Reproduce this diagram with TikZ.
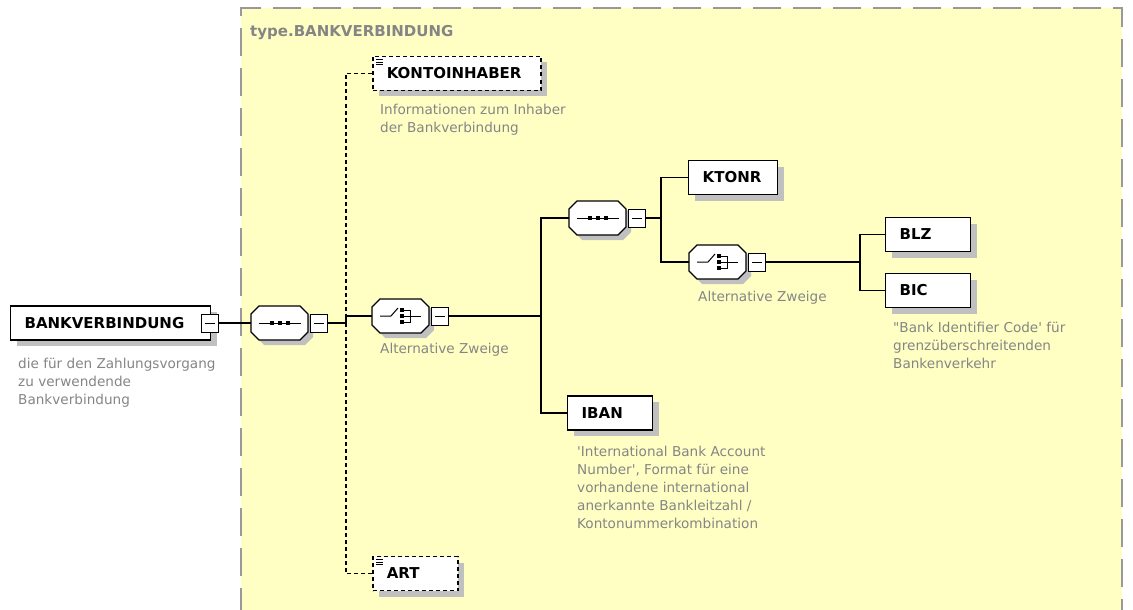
\documentclass[tikz,border=0pt]{standalone}
\usepackage{fontspec}
\setmainfont{DejaVu Sans}
\usetikzlibrary{positioning, shadows}
\definecolor{typefill}{HTML}{FFFFC4}
\definecolor{typeline}{HTML}{999999}
\definecolor{doctext}{HTML}{858585}
\definecolor{shadowgray}{HTML}{C0C0C0}

\begin{document}
\begin{tikzpicture}[
  x=1pt, y=-1pt,
  elem/.style={rectangle, draw=black, fill=white, line width=1.3pt,
               minimum height=34pt, inner xsep=14pt, inner ysep=0pt,
               text width=#1, align=left, anchor=west,
               font=\fontsize{15}{18}\selectfont\bfseries,
               drop shadow={shadow xshift=6pt, shadow yshift=-6pt,
                            fill=shadowgray, opacity=1}},
  elem/.default=57pt,
  optelem/.style={elem=#1, line width=1.5pt, dash pattern=on 4pt off 3pt},
  optelem/.default=57pt,
  compbox/.style={rectangle, minimum width=57pt, minimum height=34pt,
               inner sep=0pt, anchor=west},
  collapse/.style={rectangle, draw=black, fill=white, line width=1pt,
               minimum width=17pt, minimum height=18pt, inner sep=0pt,
               anchor=west,
               path picture={\draw[line width=1pt]
                 ([xshift=-5pt]path picture bounding box.center) --
                 ([xshift=5pt]path picture bounding box.center);}},
  doc/.style={inner sep=0pt, align=left, text=doctext,
              font=\fontsize{13.6}{18}\selectfont},
  title/.style={inner sep=0pt, anchor=base west, text=doctext,
              font=\fontsize{15}{18}\selectfont\bfseries},
  conn/.style={line width=1.2pt},
  optconn/.style={line width=1.2pt, dash pattern=on 4pt off 3pt},
  octagon/.pic={
    \fill[shadowgray] (13,-12) -- (54,-12) -- (62,-4) -- (62,14)
      -- (54,22) -- (13,22) -- (5,14) -- (5,-4) -- cycle;
    \draw[line width=1.3pt, fill=white] (8,-17) -- (49,-17) -- (57,-9)
      -- (57,9) -- (49,17) -- (8,17) -- (0,9) -- (0,-9) -- cycle;
    \node[compbox] (-box) at (0,0) {};
    \node[collapse] (-m) at (59,0) {};
  },
  sequence/.pic={
    \pic {octagon};
    \draw[line width=1pt] (7.5,0) -- (49.5,0);
    \foreach \dx in {-8,0,8} \fill (28.5+\dx-2,-2) rectangle (28.5+\dx+2,2);
  },
  choice/.pic={
    \pic {octagon};
    \begin{scope}[shift={(29,0)}]
      \draw[line width=1pt] (-21,0) -- (-10,0) -- (-3,-8);
      \foreach \dy in {-6,0,6} \fill (-1,\dy-1.8) rectangle (3,\dy+1.8);
      \draw[line width=1pt] (3,-6) -- (9,-6) -- (9,6) -- (3,6) (3,0) -- (20,0);
    \end{scope}
  },
  optmark/.pic={
    \foreach \dy in {0,2.5,5} \draw[line width=0.8pt] (0,\dy) -- (7,\dy);
  },
]
\useasboundingbox (0,0) rectangle (1133,610);

% complex type frame
\fill[typefill] (241,8) rectangle (1122,616);
\draw[typeline, line width=1.3pt, dash pattern=on 28pt off 12pt]
  (241,616) -- (241,8) -- (1122,8) -- (1122,616);
\node[title] (ttl) at (250,37) {type.BANKVERBINDUNG};

% elements and compositors
\node[elem=172pt] (root) at (10,323) {BANKVERBINDUNG};
\node[collapse] (rootm) at ([xshift=-10pt]root.east) {};

\pic (s1) at (251,323) {sequence};

\node[optelem=140pt] (kont) at (372,73.5) {KONTOINHABER};
\node[optelem] (art) at (372,573.5) {ART};

\pic (c1) at (372,316) {choice};
\pic (s2) at (569,218) {sequence};

\node[elem=61pt] (ktonr) at (688,177.5) {KTONR};

\pic (c2) at (689,262) {choice};

\node[elem] (blz) at (885,234.5) {BLZ};
\node[elem] (bic) at (885,290.5) {BIC};
\node[elem] (iban) at (567,413) {IBAN};

\pic at ([shift={(4,4)}]kont.north west) {optmark};
\pic at ([shift={(4,4)}]art.north west) {optmark};

% annotations
\node[doc, below right=17pt and 8pt of root.south west] (rootdoc)
  {die für den Zahlungsvorgang\\zu verwendende\\Bankverbindung};
\node[doc, below right=13pt and 8pt of kont.south west] (kontdoc)
  {Informationen zum Inhaber\\der Bankverbindung};
\node[doc, below right=10pt and 8pt of c1-box.south west] (c1doc) {Alternative Zweige};
\node[doc, below right=12pt and 9pt of c2-box.south west] (c2doc) {Alternative Zweige};
\node[doc, below right=13.5pt and 8pt of bic.south west] (bicdoc)
  {\textquotedbl Bank Identifier Code\textquotesingle{} für\\grenzüberschreitenden\\Bankenverkehr};
\node[doc, below right=15pt and 10pt of iban.south west] (ibandoc)
  {\textquotesingle International Bank Account\\Number\textquotesingle, Format für eine\\vorhandene international\\anerkannte Bankleitzahl /\\Kontonummerkombination};

% connectors
\coordinate (f1) at (346,323);
\coordinate (f2) at (541,316);
\coordinate (f3) at (661,218);
\coordinate (f4) at (860,262);

\draw[conn] (rootm.east) -- (s1-box.west);
\draw[optconn] (kont.west) -| (f1);
\draw[optconn] (art.west) -| (f1);
\draw[conn] (s1-m.east) -- (f1) |- (c1-box.west);
\draw[conn] (c1-m.east) -- (f2);
\draw[conn] (s2-box.west) -| (f2) |- (iban.west);
\draw[conn] (s2-m.east) -- (f3);
\draw[conn] (ktonr.west) -| (f3) |- (c2-box.west);
\draw[conn] (c2-m.east) -- (f4);
\draw[conn] (blz.west) -| (f4) |- (bic.west);
\end{tikzpicture}
\end{document}
